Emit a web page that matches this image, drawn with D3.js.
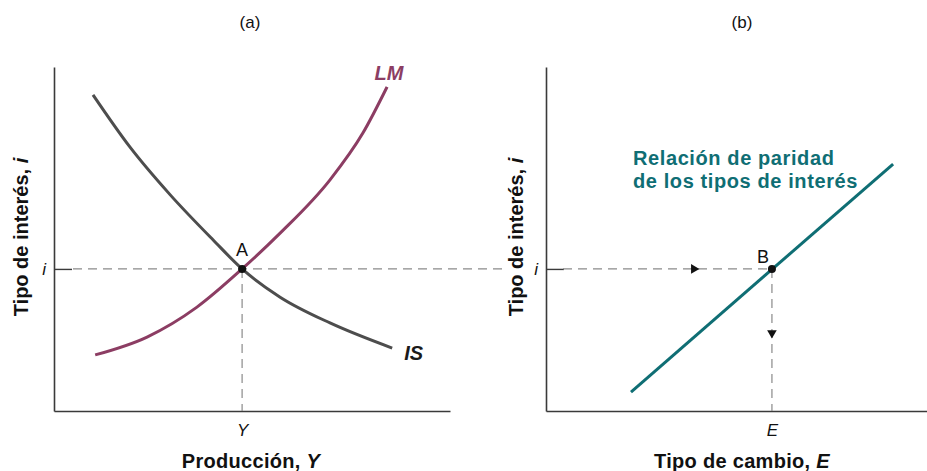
<!DOCTYPE html>
<html><head><meta charset="utf-8">
<script src="https://cdn.jsdelivr.net/npm/d3@7"></script>
<style>
body{margin:0;background:#fff;}
text{font-family:"Liberation Sans",Arial,Helvetica,sans-serif;}
</style></head>
<body><svg id="c" width="927" height="471"></svg>
<script>
// ---- data (abstract units 0..100) ----
const isX = [9.85, 19.2, 29.3, 40.2, 47.5, 57.1, 69.7, 85.4];
const isY = [91.9, 76.7, 62.9, 49.7, 41.3, 33.1, 25.6, 18.3];
const lmX = [10.4, 23.5, 36.1, 47.5, 57.1, 69.7, 78.0, 84.1];
const lmY = [16.3, 21.5, 30.2, 41.3, 51.7, 67.2, 80.8, 94.2];
const uipX = [22.3, 91.1];
const uipY = [5.5, 71.8];
const eqA = {x: 47.5, y: 41.3};
const eqB = {x: 59.3, y: 41.3};
const arrowRightX = 38.8;
const arrowDownY = 22.7;
const panelTitles = ["(a)", "(b)"];
const yTitle = "Tipo de interés, ";
const xTitles = ["Producción, ", "Tipo de cambio, "];
const xVars = ["Y", "E"];
const uipLabel = ["Relación de paridad", "de los tipos de interés"];

const svg = d3.select("#c");
const plotTop = 67, plotBottom = 411;
const y = d3.scaleLinear().domain([0, 100]).range([plotBottom, plotTop]);
const xa = d3.scaleLinear().domain([0, 100]).range([54, 450]);
const xb = d3.scaleLinear().domain([0, 100]).range([546, 927]);

const axisCol = "#3a3a3a", dashCol = "#8a8a8a";
const lmCol = "#8c3d63", isCol = "#4d4d4d", teal = "#0f6e74";

function drawAxes(x, tickLabel) {
  const gy = svg.append("g").attr("transform", `translate(${x.range()[0]},0)`)
    .call(d3.axisLeft(y).tickValues([eqA.y]).tickFormat(() => "i")
      .tickSize(-18).tickSizeOuter(0).tickPadding(6));
  gy.select(".domain").attr("stroke", axisCol).attr("stroke-width", 1.6);
  gy.selectAll(".tick line").attr("stroke", axisCol).attr("stroke-width", 1.4);
  gy.selectAll(".tick text").attr("font-size", 17).attr("font-style", "italic")
    .attr("fill", "#111").attr("dx", -2);
  const gx = svg.append("g").attr("transform", `translate(0,${plotBottom})`)
    .call(d3.axisBottom(x).tickValues([tickLabel.v]).tickFormat(() => tickLabel.t)
      .tickSize(0).tickSizeOuter(0).tickPadding(10));
  gx.select(".domain").attr("stroke", axisCol).attr("stroke-width", 1.6);
  gx.selectAll(".tick text").attr("font-size", 17).attr("font-style", "italic")
    .attr("fill", "#111").attr("dy", "0.9em");
}
drawAxes(xa, {v: eqA.x, t: xVars[0]});
drawAxes(xb, {v: eqB.x, t: xVars[1]});

// dashed guides
const dash = "9,6";
function dashed(x1, x2, y1, y2) {
  svg.append("line").attr("x1", x1).attr("x2", x2).attr("y1", y1).attr("y2", y2)
    .attr("stroke", dashCol).attr("stroke-width", 1.2).attr("stroke-dasharray", dash);
}
dashed(xa.range()[0] + 19, 504, y(eqA.y), y(eqA.y));
dashed(xa(eqA.x), xa(eqA.x), y(eqA.y), plotBottom);
dashed(xb.range()[0] + 17, xb(eqB.x), y(eqB.y), y(eqB.y));
dashed(xb(eqB.x), xb(eqB.x), y(eqB.y), plotBottom);

// curves
const lineA = d3.line().x(d => xa(d[0])).y(d => y(d[1])).curve(d3.curveMonotoneX);
svg.append("path").datum(lmX.map((v, i) => [v, lmY[i]])).attr("d", lineA)
  .attr("fill", "none").attr("stroke", lmCol).attr("stroke-width", 3);
svg.append("path").datum(isX.map((v, i) => [v, isY[i]])).attr("d", lineA)
  .attr("fill", "none").attr("stroke", isCol).attr("stroke-width", 3);
const lineB = d3.line().x(d => xb(d[0])).y(d => y(d[1]));
svg.append("path").datum(uipX.map((v, i) => [v, uipY[i]])).attr("d", lineB)
  .attr("fill", "none").attr("stroke", teal).attr("stroke-width", 3);

// points
svg.append("circle").attr("cx", xa(eqA.x)).attr("cy", y(eqA.y)).attr("r", 4).attr("fill", "#111");
svg.append("circle").attr("cx", xb(eqB.x)).attr("cy", y(eqB.y)).attr("r", 4).attr("fill", "#111");

// arrows
const tri = d3.symbol().type(d3.symbolTriangle).size(40);
svg.append("path").attr("d", tri)
  .attr("transform", `translate(${xb(arrowRightX)},${y(eqB.y)}) rotate(90)`).attr("fill", "#111");
svg.append("path").attr("d", tri)
  .attr("transform", `translate(${xb(eqB.x)},${y(arrowDownY)}) rotate(180)`).attr("fill", "#111");

// point labels
svg.append("text").attr("x", xa(eqA.x)).attr("y", y(eqA.y) - 13).attr("text-anchor", "middle")
  .attr("font-size", 18).attr("fill", "#111").text("A");
svg.append("text").attr("x", xb(eqB.x) - 9).attr("y", y(eqB.y) - 6).attr("text-anchor", "middle")
  .attr("font-size", 18).attr("fill", "#111").text("B");

// curve labels
svg.append("text").attr("x", xa(lmX[lmX.length - 1]) + 2).attr("y", 80).attr("text-anchor", "middle")
  .attr("font-size", 20).attr("font-weight", "bold").attr("font-style", "italic")
  .attr("fill", lmCol).text("LM");
svg.append("text").attr("x", xa(isX[isX.length - 1]) + 12).attr("y", y(isY[isY.length - 1]) + 12)
  .attr("font-size", 20).attr("font-weight", "bold").attr("font-style", "italic")
  .attr("fill", "#1a1a1a").text("IS");
svg.selectAll(".uip").data(uipLabel).enter().append("text")
  .attr("x", 633).attr("y", (d, i) => 165 + i * 22.5)
  .attr("font-size", 20).attr("font-weight", "bold").attr("letter-spacing", 0.6)
  .attr("fill", teal).text(d => d);

// panel titles
[250, 742].forEach((cx, i) => {
  svg.append("text").attr("x", cx).attr("y", 28).attr("text-anchor", "middle")
    .attr("font-size", 17).attr("fill", "#111").text(panelTitles[i]);
});

// axis titles
[28, 523].forEach(bx => {
  const t = svg.append("text").attr("transform", `translate(${bx},237) rotate(-90)`)
    .attr("text-anchor", "middle").attr("font-size", 20).attr("font-weight", "bold").attr("fill", "#111");
  t.append("tspan").text(yTitle);
  t.append("tspan").attr("font-style", "italic").text("i");
});
[251, 742].forEach((cx, i) => {
  const t = svg.append("text").attr("x", cx).attr("y", 468).attr("text-anchor", "middle")
    .attr("font-size", 20).attr("font-weight", "bold").attr("letter-spacing", 0.3).attr("fill", "#111");
  t.append("tspan").text(xTitles[i]);
  t.append("tspan").attr("font-style", "italic").text(xVars[i]);
});
</script></body></html>
